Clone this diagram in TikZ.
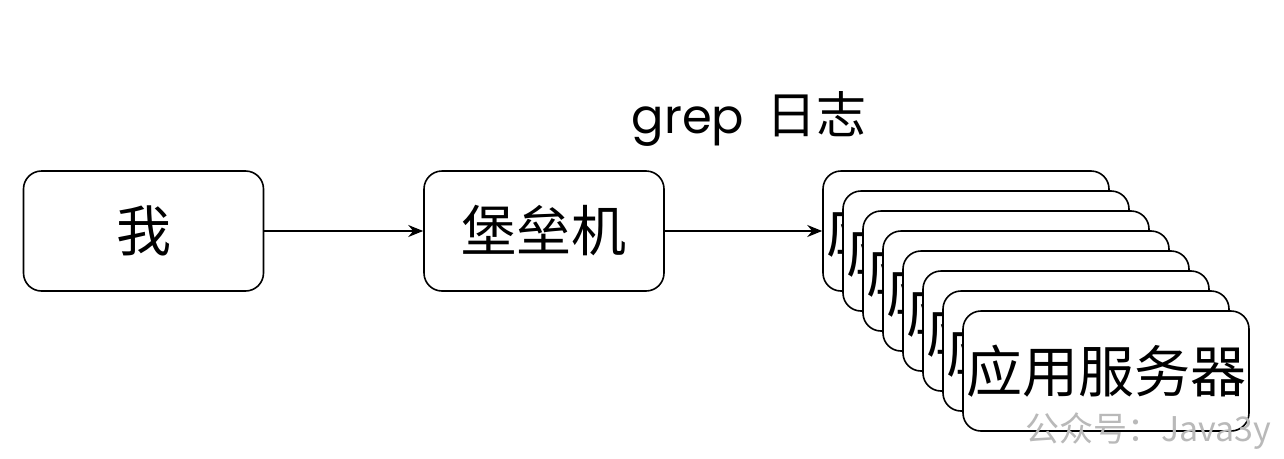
\documentclass[tikz,border=0pt]{standalone}
\usepackage{fontspec}
\setmainfont{Noto Sans CJK SC}
\newfontfamily\cjk{Noto Sans CJK SC}
\newfontfamily\grepfont{Poppins}
\usetikzlibrary{arrows.meta}
\begin{document}
\begin{tikzpicture}[x=1pt,y=-1pt,
  box/.style={draw=black,line width=1.6pt,fill=white,rounded corners=18pt,
    minimum width=#1,minimum height=120pt,inner sep=0pt,
    font=\cjk\fontsize{55}{60}\selectfont},
  box/.default=240pt,
  conn/.style={line width=1.4pt,-{Stealth[length=15pt,width=12pt,inset=5pt]}}]
\useasboundingbox (0,0) rectangle (1284,458);
\node[box] (me) at (143.5,231) {我};
\node[box] (bastion) at (544,231) {堡垒机};
\foreach \i in {0,...,7}{
  \node[box=286pt] (s\i) at ({966+20*\i},{231+20*\i}) {\fontsize{56}{60}\selectfont 应用服务器};
}
\draw[conn] (me.east) -- (bastion.west);
\draw[conn] (bastion.east) -- (s0.west);
\node[inner sep=0pt,anchor=base] (title) at (749,133)
  {{\grepfont\fontsize{48}{52}\selectfont grep}\hspace{22pt}{\cjk\fontsize{50}{54}\selectfont 日志}};
\node[inner sep=0pt,anchor=center,text=gray!55] (wm) at (1148,431)
  {\cjk\fontsize{34}{38}\selectfont 公众号：Java3y};
\end{tikzpicture}
\end{document}
